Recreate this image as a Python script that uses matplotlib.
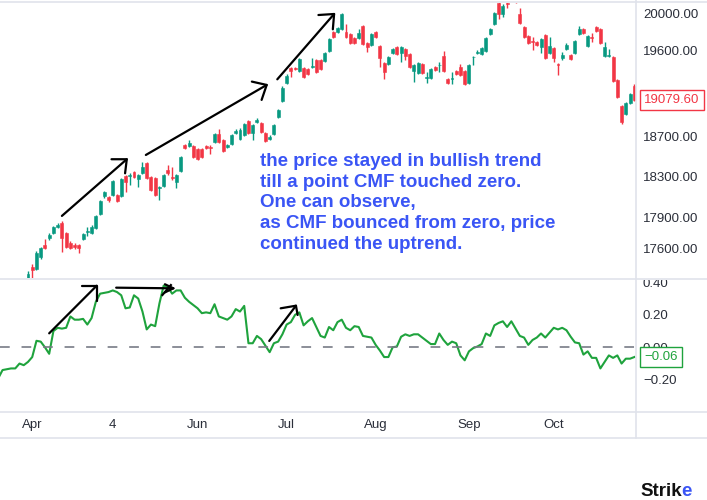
import matplotlib
matplotlib.use("Agg")
import matplotlib.pyplot as plt
import numpy as np
from matplotlib.lines import Line2D
from matplotlib.patches import Rectangle
from matplotlib.ticker import FixedLocator, FixedFormatter, NullLocator

# NIFTY 50 daily candles, Mar 21 - Oct 31
opens = [16960, 17050, 17100, 17080, 16990, 17000, 16980, 17220, 17425, 17404,
         17518, 17632, 17699, 17747, 17805, 17844, 17747, 17651, 17632, 17632,
         17690, 17757, 17747, 17795, 17931, 18107, 18097, 18117, 18117, 18107,
         18306, 18310, 18345, 18276, 18335, 18436, 18296, 18286, 18187, 18207,
         18365, 18300, 18246, 18355, 18618, 18607, 18607, 18577, 18577, 18607,
         18600, 18648, 18729, 18668, 18597, 18628, 18740, 18678, 18719, 18862,
         18740, 18852, 18842, 18740, 18678, 18729, 18904, 19069, 19256, 19413,
         19413, 19381, 19413, 19402, 19423, 19498, 19498, 19488, 19594, 19797,
         19797, 19830, 19797, 19776, 19733, 19733, 19862, 19680, 19658, 19797,
         19647, 19466, 19456, 19573, 19637, 19573, 19616, 19562, 19381, 19360,
         19456, 19313, 19308, 19423, 19440, 19541, 19297, 19300, 19381, 19423,
         19381, 19256, 19525, 19573, 19562, 19594, 19776, 19887, 20112, 19992,
         20112, 20156, 20155, 19992, 19851, 19755, 19700, 19690, 19637, 19765,
         19573, 19626, 19460, 19520, 19616, 19551, 19573, 19776, 19830, 19648,
         19740, 19851, 19830, 19541, 19541, 19530, 19287, 19017, 18934, 19048,
         19225]
highs = [17030, 17160, 17200, 17110, 17060, 17060, 17100, 17385, 17451, 17575,
         17615, 17687, 17745, 17815, 17840, 17860, 17760, 17665, 17650, 17645,
         17750, 17805, 17820, 17925, 18070, 18160, 18110, 18270, 18130, 18290,
         18320, 18332, 18360, 18330, 18449, 18450, 18310, 18300, 18210, 18330,
         18415, 18395, 18330, 18510, 18630, 18668, 18620, 18590, 18590, 18620,
         18618, 18740, 18777, 18680, 18630, 18730, 18775, 18785, 18845, 18875,
         18835, 18890, 18855, 18750, 18715, 18835, 18990, 19220, 19345, 19425,
         19425, 19520, 19425, 19415, 19516, 19510, 19510, 19585, 19735, 19810,
         19855, 20005, 19884, 19790, 19745, 19826, 19875, 19690, 19790, 19810,
         19660, 19480, 19545, 19630, 19650, 19650, 19630, 19575, 19460, 19480,
         19470, 19375, 19415, 19435, 19480, 19594, 19310, 19375, 19395, 19456,
         19395, 19460, 19545, 19600, 19640, 19745, 19845, 20015, 20125, 20100,
         20150, 20222, 20195, 20060, 19865, 19770, 19740, 19705, 19735, 19780,
         19740, 19640, 19470, 19585, 19680, 19565, 19715, 19860, 19845, 19770,
         19790, 19865, 19845, 19690, 19610, 19545, 19300, 19030, 19060, 19155,
         19240]
lows = [16900, 17040, 17050, 16920, 16920, 16930, 16950, 17200, 17308, 17394,
        17500, 17595, 17680, 17735, 17790, 17568, 17600, 17590, 17595, 17550,
        17675, 17718, 17735, 17785, 17920, 18090, 18050, 18105, 18045, 18095,
        18147, 18216, 18285, 18194, 18325, 18275, 18155, 18105, 18068, 18195,
        18316, 18266, 18187, 18345, 18575, 18595, 18485, 18465, 18485, 18575,
        18527, 18635, 18635, 18545, 18585, 18615, 18725, 18665, 18705, 18725,
        18668, 18840, 18740, 18645, 18665, 18715, 18890, 19060, 19245, 19318,
        19390, 19370, 19305, 19340, 19410, 19360, 19390, 19475, 19580, 19730,
        19785, 19815, 19730, 19665, 19665, 19720, 19655, 19580, 19645, 19730,
        19424, 19295, 19445, 19560, 19550, 19480, 19498, 19410, 19270, 19350,
        19345, 19260, 19295, 19380, 19375, 19370, 19245, 19250, 19340, 19325,
        19235, 19245, 19446, 19560, 19550, 19580, 19765, 19875, 19935, 19960,
        20060, 20129, 20115, 19884, 19730, 19665, 19605, 19645, 19570, 19505,
        19560, 19480, 19340, 19498, 19600, 19495, 19560, 19765, 19775, 19635,
        19690, 19795, 19665, 19530, 19530, 19265, 19095, 18830, 18920, 19035,
        19065]
closes = [16990, 17150, 17080, 16945, 16985, 16950, 17080, 17356, 17394, 17556,
          17603, 17603, 17728, 17805, 17824, 17699, 17613, 17603, 17613, 17603,
          17737, 17766, 17805, 17912, 18058, 18147, 18068, 18256, 18058, 18276,
          18246, 18320, 18296, 18316, 18395, 18286, 18167, 18117, 18197, 18316,
          18335, 18290, 18316, 18496, 18587, 18638, 18496, 18476, 18496, 18587,
          18590, 18729, 18648, 18557, 18618, 18719, 18760, 18770, 18831, 18740,
          18821, 18872, 18750, 18658, 18699, 18821, 18975, 19204, 19329, 19381,
          19402, 19509, 19318, 19350, 19434, 19371, 19402, 19573, 19723, 19744,
          19840, 19992, 19744, 19680, 19680, 19787, 19669, 19637, 19776, 19744,
          19520, 19371, 19530, 19616, 19562, 19637, 19541, 19423, 19446, 19466,
          19360, 19323, 19402, 19392, 19450, 19381, 19256, 19308, 19350, 19339,
          19246, 19446, 19530, 19584, 19626, 19733, 19830, 20003, 19992, 20080,
          20101, 20192, 20133, 19895, 19744, 19680, 19690, 19658, 19723, 19520,
          19648, 19520, 19450, 19551, 19658, 19509, 19701, 19830, 19787, 19755,
          19730, 19808, 19680, 19637, 19551, 19277, 19110, 18852, 19048, 19142,
          19079.6]
cmf = [-0.19, -0.14, -0.135, -0.13, -0.13, -0.10, -0.11, -0.09, -0.06, 0.04,
       0.035, 0.00, -0.04, 0.10, 0.12, 0.115, 0.12, 0.19, 0.17, 0.17,
       0.175, 0.14, 0.18, 0.28, 0.33, 0.335, 0.34, 0.35, 0.34, 0.32,
       0.24, 0.245, 0.32, 0.30, 0.22, 0.11, 0.14, 0.13, 0.27, 0.38,
       0.37, 0.33, 0.35, 0.35, 0.305, 0.28, 0.26, 0.24, 0.21, 0.215,
       0.21, 0.265, 0.19, 0.18, 0.17, 0.19, 0.235, 0.22, 0.255, 0.025,
       0.025, 0.07, 0.05, 0.01, -0.03, 0.025, 0.035, 0.08, 0.14, 0.155,
       0.20, 0.215, 0.135, 0.16, 0.18, 0.125, 0.07, 0.06, 0.125, 0.105,
       0.155, 0.17, 0.12, 0.105, 0.13, 0.125, 0.07, 0.065, 0.06, 0.015,
       -0.02, -0.06, -0.06, 0.00, 0.005, 0.065, 0.08, 0.07, 0.08, 0.08,
       0.06, 0.04, 0.02, 0.02, 0.085, 0.045, 0.015, 0.035, 0.025, -0.05,
       -0.08, -0.025, -0.005, 0.005, 0.02, 0.085, 0.07, 0.135, 0.15, 0.16,
       0.125, 0.16, 0.115, 0.07, 0.06, 0.015, 0.045, 0.06, 0.085, 0.06,
       0.09, 0.12, 0.11, 0.12, 0.105, 0.065, 0.03, 0.025, -0.045, -0.025,
       -0.065, -0.065, -0.13, -0.09, -0.05, -0.065, -0.05, -0.10, -0.07, -0.07,
       -0.06]

month_pos = [8, 27, 47, 68, 89, 111, 131]
month_labels = ["Apr", "4", "Jun", "Jul", "Aug", "Sep", "Oct"]
price_ticks = [17600, 17900, 18300, 18700, 19600, 20000]
cmf_ticks = [0.4, 0.2, 0.0, -0.2]
cmf_tick_labels = ["0.40", "0.20", "0.00", "\u22120.20"]

note = ["the price stayed in bullish trend",
        "till a point CMF touched zero.",
        "One can observe,",
        "as CMF bounced from zero, price",
        "continued the uptrend."]

GREEN = "#089981"
RED = "#f23645"
CMF_GREEN = "#1fa33d"
GRID = "#e0e3eb"
TXT = "#2a2e39"
BLUE = "#3a55f5"

plt.rcParams["font.family"] = ["Liberation Sans", "DejaVu Sans"]
plt.rcParams["lines.scale_dashes"] = False

W, H = 707, 500
fig = plt.figure(figsize=(7.07, 5.0), dpi=100)


def fx(px):
    return px / W


def fy(py):
    return 1 - py / H


ax1 = fig.add_axes([0, fy(278), fx(636), fy(3) - fy(278)])
ax2 = fig.add_axes([0, fy(411), fx(636), fy(278) - fy(411)], sharex=ax1)

o = np.array(opens)
h = np.array(highs)
l = np.array(lows)
c = np.array(closes)
x = np.arange(len(c))
cols = np.where(c >= o, GREEN, RED)

ax1.vlines(x, l, h, colors=cols, lw=1)
ax1.bar(x, np.abs(c - o), bottom=np.minimum(o, c), width=0.7,
        color=cols, edgecolor=cols, linewidth=0.4)
ax1.set_yscale("log")
ax1.set_ylim(17317, 20112)
ax1.set_xlim(0.4, 150.4)
ax1.yaxis.set_major_locator(FixedLocator(price_ticks))
ax1.yaxis.set_major_formatter(FixedFormatter(["%.2f" % p for p in price_ticks]))
ax1.yaxis.set_minor_locator(NullLocator())
ax1.yaxis.tick_right()
ax1.tick_params(axis="y", length=0, pad=5, labelsize=9.5, labelcolor=TXT)
ax1.tick_params(axis="x", bottom=False, labelbottom=False)
for s in ax1.spines.values():
    s.set_visible(False)

ax2.plot(x, cmf, color=CMF_GREEN, lw=1.5)
ax2.axhline(0, color="#787b86", lw=1.2, dashes=(7, 8.5))
ax2.set_ylim(-0.392, 0.4265)
ax2.set_yticks(cmf_ticks)
ax2.set_yticklabels(cmf_tick_labels)
ax2.yaxis.tick_right()
ax2.tick_params(axis="y", length=0, pad=5, labelsize=9.5, labelcolor=TXT)
ax2.set_xticks(month_pos)
ax2.set_xticklabels(month_labels)
ax2.tick_params(axis="x", length=0, pad=6, labelsize=9.5, labelcolor=TXT)
for s in ax2.spines.values():
    s.set_visible(False)


def hand_arrow(ax, tail, tip, head1, head2):
    kw = dict(color="black", lw=1.6, solid_capstyle="round", clip_on=False, zorder=6)
    ax.plot([tail[0], tip[0]], [tail[1], tip[1]], **kw)
    ax.plot([head1[0], tip[0], head2[0]], [head1[1], tip[1], head2[1]], **kw)


hand_arrow(ax1, (15.0, 17912), (30.3, 18473), (26.7, 18473), (29.9, 18332))
hand_arrow(ax1, (34.8, 18516), (63.3, 19235), (59.8, 19270), (62.1, 19079))
hand_arrow(ax1, (65.8, 19294), (79.2, 19992), (75.5, 19981), (78.9, 19826))
hand_arrow(ax2, (12.0, 0.086), (23.2, 0.379), (19.7, 0.379), (23.2, 0.285))
hand_arrow(ax2, (27.8, 0.367), (41.3, 0.363), (39.3, 0.388), (39.3, 0.338))
ax2.plot([38.7, 40.7], [0.322, 0.383], color="black", lw=1.6, zorder=6)
hand_arrow(ax2, (63.9, 0.039), (70.2, 0.256), (66.6, 0.24), (70.6, 0.199))

fig.text(fx(260), fy(153), "\n".join(note), ha="left", va="top",
         color=BLUE, fontsize=13.5, fontweight="bold", linespacing=1.28)

ax1.annotate("%.2f" % closes[-1], xy=(1, closes[-1]),
             xycoords=("axes fraction", "data"), xytext=(6, 0),
             textcoords="offset points", ha="left", va="center",
             color=RED, fontsize=9.5, annotation_clip=False, zorder=10,
             bbox=dict(boxstyle="square,pad=0.3", fc="white", ec=RED, lw=1))
ax2.annotate("%.2f" % cmf[-1] if cmf[-1] >= 0 else "\u2212%.2f" % abs(cmf[-1]),
             xy=(1, cmf[-1]), xycoords=("axes fraction", "data"),
             xytext=(6, 0), textcoords="offset points", ha="left",
             va="center", color=CMF_GREEN, fontsize=9.5,
             annotation_clip=False, zorder=10,
             bbox=dict(boxstyle="square,pad=0.3", fc="white", ec=CMF_GREEN, lw=1))

# clip the top of the 0.40 label under the pane separator
fig.add_artist(Rectangle((fx(637), fy(279.5)), 1 - fx(637), fy(268) - fy(279.5),
                         transform=fig.transFigure, fc="white", ec="none", zorder=5))
for (x0, y0, x1, y1) in [(0, 1.5, 707, 1.5), (0, 278.5, 707, 278.5),
                         (0, 411.5, 707, 411.5), (0, 437.5, 707, 437.5),
                         (636, 0, 636, 437.5)]:
    fig.add_artist(Line2D([fx(x0), fx(x1)], [fy(y0), fy(y1)],
                          transform=fig.transFigure, color=GRID, lw=1.2, zorder=6))

t1 = fig.text(fx(640), fy(496), "Strik", ha="left", va="baseline",
              fontsize=13.5, fontweight="bold", color="#111111")
fig.canvas.draw()
bb = t1.get_window_extent()
fig.text(bb.x1 / fig.dpi / 7.07, fy(496), "e", ha="left", va="baseline",
         fontsize=13.5, fontweight="bold", color=BLUE)

fig.savefig("out.png", dpi=100, facecolor="white")
